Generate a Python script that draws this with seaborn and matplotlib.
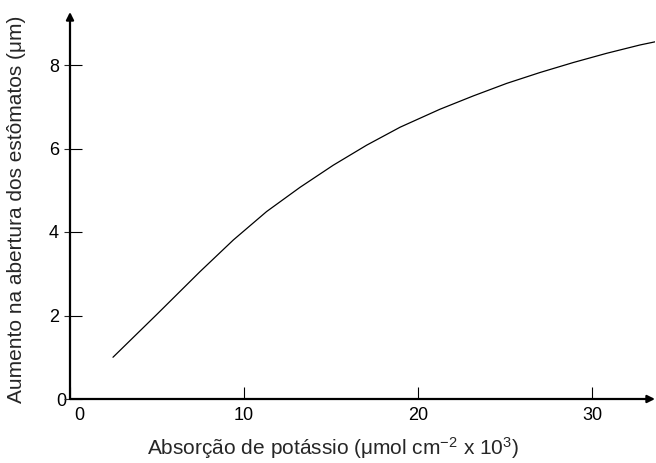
import matplotlib
matplotlib.use("Agg")
import matplotlib.pyplot as plt
import matplotlib.transforms as mtransforms
import seaborn as sns
import pandas as pd

# data
absorcao = [2.47, 5.0, 7.47, 9.39, 11.3, 13.22, 15.13, 17.05, 18.97, 21.26,
            23.18, 25.1, 27.01, 28.93, 30.84, 32.76, 33.68]
aumento = [1.0, 2.03, 3.05, 3.81, 4.49, 5.07, 5.60, 6.08, 6.51, 6.94,
           7.26, 7.56, 7.82, 8.06, 8.28, 8.48, 8.56]
x_ticks = [0, 10, 20, 30]
y_ticks = [0, 2, 4, 6, 8]
x_label = "Absorção de potássio (μmol cm$^{-2}$ x 10$^{3}$)"
y_label = "Aumento na abertura dos estômatos (μm)"

sns.set_style("ticks")
plt.rcParams["font.family"] = ["Liberation Sans", "DejaVu Sans"]
plt.rcParams["mathtext.fontset"] = "custom"
plt.rcParams["mathtext.rm"] = "Liberation Sans"
plt.rcParams["mathtext.it"] = "Liberation Sans:italic"
plt.rcParams["mathtext.bf"] = "Liberation Sans:bold"

df = pd.DataFrame({"x": absorcao, "y": aumento})

W, H = 656, 463
fig = plt.figure(figsize=(W / 100, H / 100), dpi=100)
left, right, top, bottom = 70, 655, 12, 399
ax = fig.add_axes([left / W, (H - bottom) / H, (right - left) / W, (bottom - top) / H])

sns.lineplot(data=df, x="x", y="y", ax=ax, color="black", linewidth=0.9)

ax.set_xlim(0, (right - left) / 17.4)
ax.set_ylim(0, (bottom - top) / 41.75)

for s in ["top", "right", "left", "bottom"]:
    ax.spines[s].set_visible(False)

ax.annotate("", xy=(1, 0), xytext=(0, 0), xycoords="axes fraction",
            arrowprops=dict(arrowstyle="-|>", lw=1.6, color="black",
                            mutation_scale=11, shrinkA=0, shrinkB=0))
ax.annotate("", xy=(0, 1), xytext=(0, 0), xycoords="axes fraction",
            arrowprops=dict(arrowstyle="-|>", lw=1.6, color="black",
                            mutation_scale=11, shrinkA=0, shrinkB=0))

ax.set_xticks(x_ticks)
ax.set_yticks(y_ticks)
ax.tick_params(axis="x", direction="in", length=8.6, width=0.8, pad=6,
               labelsize=13, colors="black")
ax.tick_params(axis="y", direction="in", length=8.6, width=0.8, pad=8,
               labelsize=13, colors="black")
ax.yaxis.remove_overlapping_locs = False
ax.set_yticks(y_ticks, minor=True)
ax.tick_params(axis="y", which="minor", direction="out", length=4.3, width=0.8,
               labelleft=False)

ax.set_xlabel(x_label, fontsize=15)
ax.set_ylabel(y_label, fontsize=15)
ax.xaxis.set_label_coords((332.5 - left) / (right - left), -(435 - bottom) / (bottom - top))
ax.yaxis.set_label_coords(-(left - 7) / (right - left), 0.49)
ax.yaxis.label.set_va("top")

fig.canvas.draw()
xt0 = ax.xaxis.get_major_ticks()[0].label1
xt0.set_transform(xt0.get_transform() + mtransforms.ScaledTranslation(9 / 100, 0, fig.dpi_scale_trans))
yt0 = ax.yaxis.get_major_ticks()[0].label1
yt0.set_transform(yt0.get_transform() + mtransforms.ScaledTranslation(7 / 100, 0, fig.dpi_scale_trans))

fig.savefig("out.png", dpi=100)
